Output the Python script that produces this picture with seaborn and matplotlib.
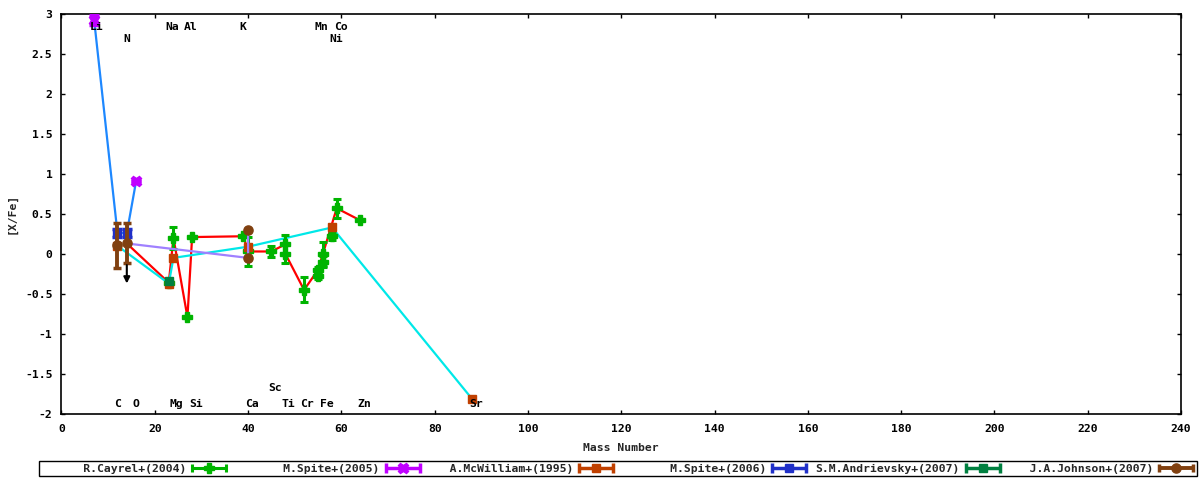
import numpy as np
import matplotlib
matplotlib.use('Agg')
import matplotlib.pyplot as plt
import seaborn as sns
from matplotlib.container import ErrorbarContainer
from matplotlib.legend_handler import HandlerErrorbar
from matplotlib.ticker import MultipleLocator, FuncFormatter

# R.Cayrel+(2004)
cayrel_x = [23, 24, 27, 28, 39, 40, 45, 48, 48, 52, 55, 55, 56, 56, 58, 59, 64]
cayrel_y = [-0.36, 0.20, -0.79, 0.21, 0.22, 0.03, 0.03, 0.12, 0.00, -0.45, -0.20, -0.28, 0.00, -0.10, 0.22, 0.57, 0.42]
cayrel_err = [0, 0.14, 0, 0, 0, 0.18, 0.07, 0.12, 0.11, 0.155, 0.03, 0.03, 0.15, 0.07, 0.05, 0.12, 0]
cayrel_line_x = [14, 23, 24, 27, 28, 39, 40, 45, 48, 48, 52, 55, 59, 64]
cayrel_line_y = [0.13, -0.36, 0.20, -0.79, 0.21, 0.22, 0.03, 0.03, 0.12, 0.00, -0.45, -0.20, 0.57, 0.42]

# M.Spite+(2005)
spite05_x = [7, 16]
spite05_y = [2.92, 0.91]
spite05_err = [0.06, 0]
spite_line_x = [7, 12, 14, 16]
spite_line_y = [2.92, 0.26, 0.26, 0.91]

# A.McWilliam+(1995)
mcw_x = [12, 23, 24, 40, 58, 88]
mcw_y = [0.10, -0.37, -0.05, 0.09, 0.33, -1.81]

# M.Spite+(2006)
spite06_x = [12, 14]
spite06_y = [0.26, 0.26]
spite06_err = [0.05, 0.05]

# S.M.Andrievsky+(2007)
andr_x = [23]
andr_y = [-0.34]

# J.A.Johnson+(2007)
johnson_x = [12, 14, 40, 40]
johnson_y = [0.105, 0.13, 0.30, -0.05]
johnson_err = [0.285, 0.25, 0, 0]
johnson_line_x = [14, 40, 40]
johnson_line_y = [0.13, -0.05, 0.30]
# upper limit arrow (N)
limit_x = [14]
limit_top = [-0.14]
limit_tip = [-0.37]

# element labels
elem_names = ['Li', 'N', 'Na', 'Al', 'K', 'Mn', 'Co', 'Ni',
              'C', 'O', 'Mg', 'Si', 'Ca', 'Sc', 'Ti', 'Cr', 'Fe', 'Zn', 'Sr']
elem_x = [7.6, 14.0, 23.8, 27.6, 38.9, 55.8, 59.9, 58.8,
          12.1, 15.9, 24.6, 28.8, 40.8, 45.7, 48.7, 52.7, 56.9, 64.8, 88.8]
elem_y = [2.80, 2.65, 2.80, 2.80, 2.80, 2.80, 2.80, 2.65,
          -1.91, -1.91, -1.91, -1.91, -1.91, -1.71, -1.91, -1.91, -1.91, -1.91, -1.91]

legend_names = ['R.Cayrel+(2004)', 'M.Spite+(2005)', 'A.McWilliam+(1995)',
                'M.Spite+(2006)', 'S.M.Andrievsky+(2007)', 'J.A.Johnson+(2007)']

sns.set_style('ticks')
plt.rcParams['font.family'] = ['DejaVu Sans Mono']
plt.rcParams['font.weight'] = 'bold'
plt.rcParams['axes.unicode_minus'] = False
FS = 8.2

fig = plt.figure(figsize=(12, 4.8), dpi=100)
ax = fig.add_axes([61.5 / 1200, 66 / 480, (1181 - 61.5) / 1200, (414 - 13.7) / 480])

# styles (capsize is half the cap width)
st_cayrel = dict(fmt='P', color='#00b400', ms=6.5, capsize=2.6, elinewidth=2.2, capthick=2.2)
st_spite05 = dict(fmt='X', color='#c000ff', ms=7.5, capsize=3.4, elinewidth=2.5, capthick=2.5)
st_mcw = dict(fmt='s', color='#c04000', ms=6.4, capsize=3.4, elinewidth=2.5, capthick=2.5)
st_spite06 = dict(fmt='s', color='#2030c8', ms=6.2, capsize=3.4, elinewidth=2.5, capthick=2.5)
st_andr = dict(fmt='s', color='#008040', ms=6.4, capsize=3.4, elinewidth=2.5, capthick=2.5)
st_johnson = dict(fmt='o', color='#804010', ms=6.6, capsize=3.2, elinewidth=2.8, capthick=2.5)

# connecting lines
sns.lineplot(x=cayrel_line_x, y=cayrel_line_y, sort=False, estimator=None,
             color='#ff0000', lw=1.6, ax=ax, zorder=2)
sns.lineplot(x=spite_line_x, y=spite_line_y, sort=False, estimator=None,
             color='#1e88ff', lw=1.6, ax=ax, zorder=2)
sns.lineplot(x=mcw_x, y=mcw_y, sort=False, estimator=None,
             color='#00e8e8', lw=1.6, ax=ax, zorder=2)
sns.lineplot(x=johnson_line_x, y=johnson_line_y, sort=False, estimator=None,
             color='#a080ff', lw=1.6, ax=ax, zorder=3.35)

# data points
ax.errorbar(cayrel_x, cayrel_y, yerr=cayrel_err, zorder=3, **st_cayrel)
ax.errorbar(spite05_x, spite05_y, yerr=spite05_err, zorder=3.1, **st_spite05)
ax.errorbar(mcw_x, mcw_y, zorder=3.2, **st_mcw)
ax.errorbar(spite06_x, spite06_y, yerr=spite06_err, zorder=3.4, **st_spite06)
ax.errorbar(andr_x, andr_y, zorder=3.5, **st_andr)
ax.errorbar(johnson_x, johnson_y, yerr=johnson_err, zorder=3.6, **st_johnson)

for lx, lt, lb in zip(limit_x, limit_top, limit_tip):
    ax.annotate('', xy=(lx, lb), xytext=(lx, lt), zorder=3.7,
                arrowprops=dict(arrowstyle='-|>', color='black', lw=1.5,
                                mutation_scale=9, shrinkA=0, shrinkB=0))

for name, x, y in zip(elem_names, elem_x, elem_y):
    ax.text(x, y, name, ha='center', va='baseline', fontsize=FS,
            fontweight='bold', color='black', zorder=5)

ax.set_xlim(0, 240)
ax.set_ylim(-2, 3)
ax.xaxis.set_major_locator(MultipleLocator(20))
ax.yaxis.set_major_locator(MultipleLocator(0.5))
ax.yaxis.set_major_formatter(FuncFormatter(lambda v, p: '%g' % v))
ax.tick_params(direction='in', top=True, right=True, length=3, width=1,
               labelsize=FS, colors='black')
ax.tick_params(axis='y', pad=6.5)
ax.tick_params(axis='x', pad=7.5)
for s in ax.spines.values():
    s.set_linewidth(1.2)
    s.set_color('black')
ax.set_xlabel('Mass Number', fontsize=FS, fontweight='bold', labelpad=6)
ax.set_ylabel('[X/Fe]', fontsize=FS, fontweight='bold', labelpad=6)

# legend with gnuplot-like horizontal samples
handles = []
for st in [st_cayrel, st_spite05, st_mcw, st_spite06, st_andr, st_johnson]:
    h = ax.errorbar([np.nan], [np.nan], xerr=[1.0], **st)
    handles.append(h)
leg = fig.legend(handles, [n.rjust(21) for n in legend_names], ncol=6,
                 loc='center', bbox_to_anchor=(618 / 1200, 1 - 468.5 / 480),
                 bbox_transform=fig.transFigure, markerfirst=False,
                 handlelength=3.16, handletextpad=0.44, columnspacing=0.7,
                 borderpad=0.22, borderaxespad=0, fancybox=False,
                 edgecolor='black', framealpha=1, numpoints=1,
                 prop=dict(family='DejaVu Sans Mono', weight='bold', size=FS),
                 handler_map={ErrorbarContainer: HandlerErrorbar(xerr_size=1.5)})
leg.get_frame().set_linewidth(1.0)

fig.savefig('out.png', dpi=100)
